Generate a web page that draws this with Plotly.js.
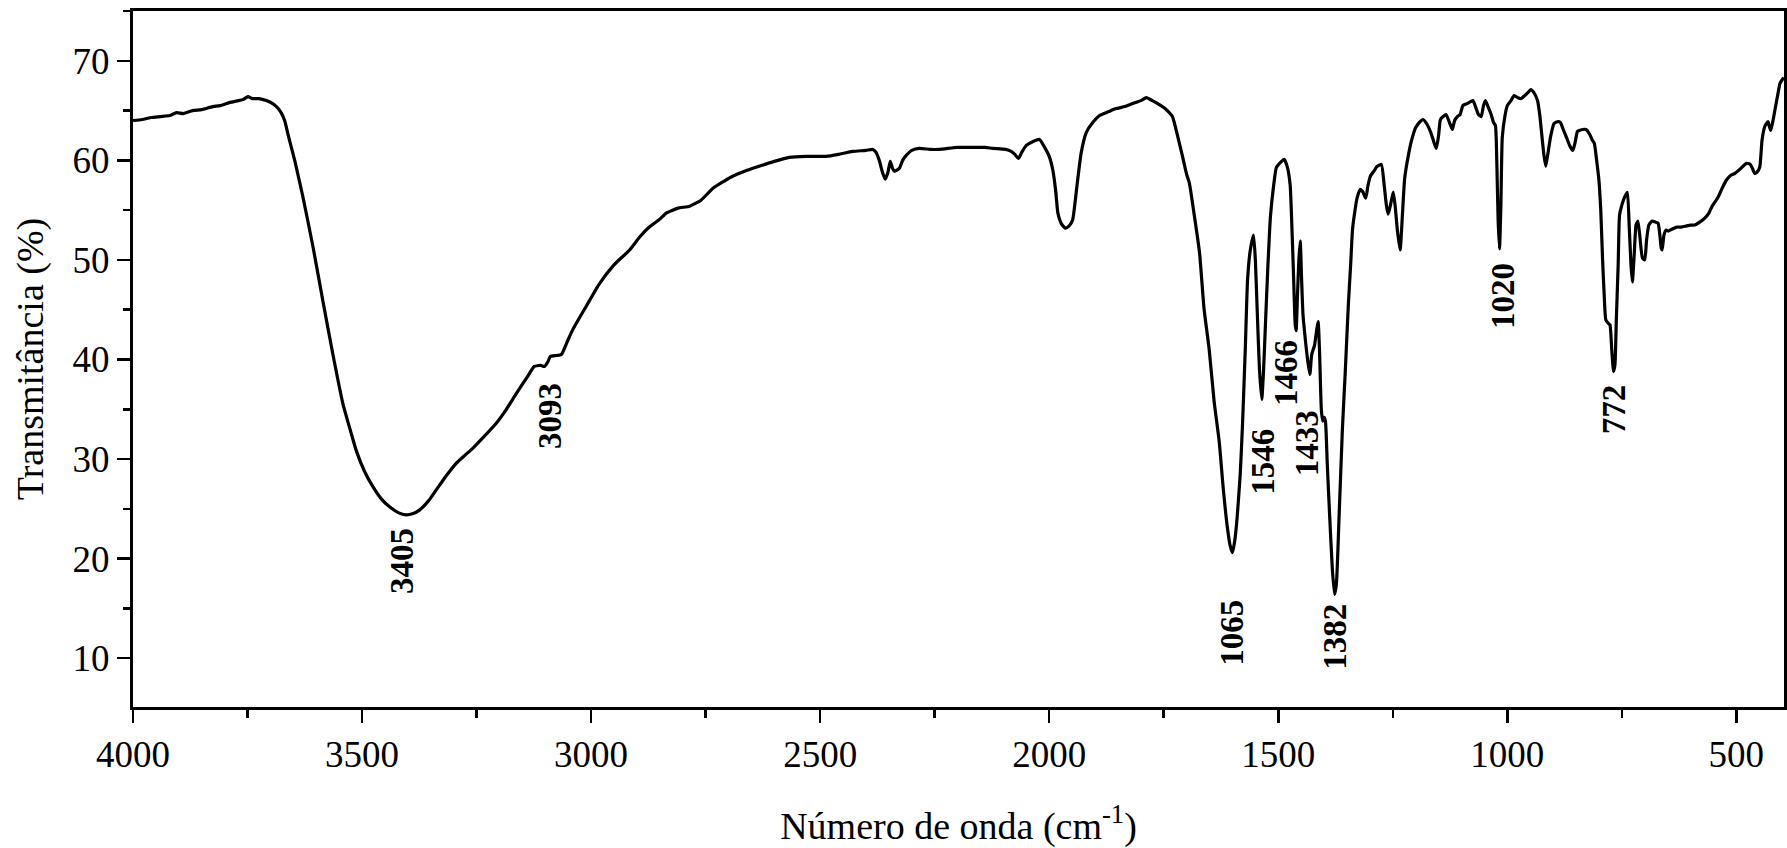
<!DOCTYPE html>
<html>
<head>
<meta charset="utf-8">
<script src="https://cdn.plot.ly/plotly-3.0.1.min.js"></script>
<style>
  html, body { margin: 0; padding: 0; background: #fff; }
  #chart { width: 1787px; height: 848px; }
</style>
</head>
<body>
<div id="chart"></div>
<script>
// Wavenumber (cm-1)
const wavenumber = [
  4000,3980,3960,3940,3920,3905,3890,3870,3850,3826,3810,3790,3770,3760,3749,3740,3725,3709,3695,3687,
  3678,3669,3660,3647,3629,3607,3586,3564,3542,3525,3513,3495,3476,3458,3440,3420,3404,3390,3374,3355,
  3338,3315,3294,3275,3258,3235,3207,3185,3163,3140,3124,3110,3102,3094,3089,3075,3065,3052,3040,3010,
  2982,2950,2916,2894,2873,2850,2836,2810,2785,2760,2734,2710,2691,2665,2640,2600,2567,2530,2487,2460,
  2429,2400,2385,2378,2371,2364,2358,2352,2347,2342,2338,2327,2320,2312,2300,2283,2260,2240,2200,2167,
  2140,2123,2095,2083,2075,2067,2060,2050,2035,2021,2010,2000,1992,1986,1981,1973,1965,1957,1949,1943,
  1938,1930,1919,1905,1890,1870,1854,1835,1818,1800,1788,1775,1763,1750,1740,1731,1720,1709,1700,1694,
  1683,1672,1662,1651,1640,1629,1620,1611,1605,1600,1595,1590,1583,1578,1572,1567,1561,1554,1550,1546,
  1541,1536,1532,1528,1523,1517,1510,1504,1495,1487,1480,1474,1470,1467,1463,1461,1458,1455,1452,1449,
  1446,1442,1436,1431,1427,1421,1416,1413,1410,1406,1403,1400,1397,1393,1388,1382,1377,1373,1367,1360,
  1354,1347,1342,1338,1334,1328,1321,1315,1309,1304,1299,1290,1284,1275,1269,1264,1260,1255,1249,1245,
  1240,1234,1229,1224,1216,1209,1200,1190,1184,1175,1167,1160,1155,1150,1146,1140,1134,1127,1120,1115,
  1109,1103,1097,1088,1080,1075,1068,1063,1057,1052,1048,1043,1036,1030,1026,1023,1020,1017,1014,1011,
  1005,1000,992,985,977,971,962,955,949,942,934,929,925,920,916,911,905,898,889,884,
  877,870,864,857,852,847,843,836,828,820,814,810,805,800,796,792,788,785,779,776,
  772,768,765,762,758,755,750,744,738,734,730,727,723,719,715,711,705,700,696,691,
  684,677,671,667,664,662,658,653,649,640,630,620,610,600,591,580,569,560,554,547,
  540,531,522,512,503,490,478,470,465,460,455,449,446,444,438,431,428,425,420,416,
  410,405,400,396
];
// Transmittance (%)
const transmittance = [
  64.0,64.1,64.3,64.4,64.5,64.8,64.7,65.0,65.1,65.4,65.5,65.8,66.0,66.1,66.4,66.2,66.2,66.0,65.7,65.4,
  64.9,64.0,62.3,60.0,56.3,51.3,46.0,40.6,35.6,32.8,30.9,28.8,27.2,26.0,25.2,24.6,24.4,24.5,24.9,25.8,
  26.9,28.4,29.6,30.4,31.1,32.2,33.6,35.0,36.6,38.2,39.3,39.4,39.3,39.8,40.3,40.4,40.5,41.8,43.0,45.4,
  47.6,49.5,51.0,52.3,53.3,54.1,54.7,55.2,55.4,56.0,57.2,57.9,58.4,58.9,59.3,59.9,60.3,60.4,60.4,60.6,
  60.9,61.0,61.1,60.8,60.0,58.8,58.1,58.8,59.9,59.2,58.9,59.2,60.0,60.5,61.0,61.2,61.1,61.1,61.3,61.3,
  61.3,61.2,61.1,60.9,60.6,60.2,60.8,61.5,61.9,62.1,61.3,60.4,59.0,57.0,54.7,53.6,53.2,53.4,54.0,56.0,
  58.0,60.8,62.8,63.8,64.5,64.9,65.2,65.4,65.7,66.0,66.3,66.0,65.7,65.3,64.9,64.4,62.5,60.4,58.6,57.7,
  54.4,50.8,45.1,41.1,35.8,31.8,27.0,23.1,21.3,20.6,21.8,24.0,28.5,33.5,41.0,48.0,51.0,52.5,50.0,45.0,
  39.0,36.0,39.0,43.5,49.0,54.4,57.5,59.3,59.8,60.1,59.3,57.5,53.0,49.0,43.5,42.9,46.5,50.0,51.9,48.0,
  44.5,42.5,40.0,38.5,40.5,41.4,43.0,43.8,41.0,35.0,33.8,34.2,33.8,29.5,24.5,19.0,16.4,17.5,24.5,33.0,
  38.5,45.5,49.5,53.0,54.5,56.2,57.1,56.8,56.2,57.5,58.4,59.0,59.4,59.6,57.6,55.5,54.6,55.5,56.8,55.5,
  53.0,51.0,54.5,58.2,60.5,62.0,63.3,63.9,64.1,63.6,62.8,61.8,61.2,62.5,64.1,64.4,64.6,63.9,63.1,64.0,
  64.4,64.6,65.5,65.7,65.9,66.0,65.2,64.6,64.4,65.5,66.0,65.5,64.7,63.8,63.5,60.0,54.0,51.1,55.5,62.3,
  64.5,65.5,66.0,66.5,66.3,66.2,66.5,66.8,67.1,66.8,66.0,64.5,62.7,60.5,59.4,60.8,62.5,63.7,63.9,63.8,
  63.0,62.2,61.5,61.0,61.8,62.9,63.0,63.1,63.1,62.6,62.0,61.7,60.0,58.0,55.0,50.0,46.0,44.0,43.6,43.5,
  41.0,38.8,39.5,44.0,49.5,54.5,55.5,56.3,56.8,53.5,49.5,47.8,50.5,53.5,53.9,52.5,50.2,50.0,52.0,53.5,
  53.9,53.8,53.7,52.5,51.2,51.0,52.5,53.0,52.9,53.1,53.3,53.3,53.4,53.5,53.5,53.8,54.2,54.7,55.3,55.8,
  56.3,57.2,58.0,58.5,58.7,59.2,59.7,59.6,59.2,58.7,58.8,59.3,60.8,62.0,63.4,63.9,63.4,63.0,64.0,65.0,
  66.5,67.7,68.1,68.3
];

// Peak labels
const peakLabels = ['3405','3093','1065','1546','1466','1433','1382','1020','772'];
const peakLabelX = [3414, 3090, 1600, 1534, 1482, 1437, 1375, 1009, 767];
const peakLabelY = [19.8, 34.3, 12.6, 29.7, 38.6, 31.6, 12.1, 46.4, 35.0];

const FONT = "'Liberation Serif', 'Times New Roman', serif";

const trace = {
  x: wavenumber,
  y: transmittance,
  type: 'scatter',
  mode: 'lines',
  line: { color: '#000', width: 3.2, shape: 'spline', smoothing: 0.5 },
  hoverinfo: 'x+y'
};

const annotations = peakLabels.map((t, i) => ({
  x: peakLabelX[i], y: peakLabelY[i], xref: 'x', yref: 'y',
  text: '<b>' + t + '</b>', showarrow: false, textangle: -90,
  font: { family: FONT, size: 33, color: '#000' },
  xanchor: 'center', yanchor: 'middle'
}));

const axisCommon = {
  showline: true, linecolor: '#000', linewidth: 3, mirror: true,
  ticks: 'outside', tickcolor: '#000', tickwidth: 2.5, ticklen: 13,
  showgrid: false, zeroline: false,
  tickfont: { family: FONT, size: 37, color: '#000' }
};

const layout = {
  width: 1787, height: 848,
  margin: { l: 133, r: 3, t: 11, b: 141 },
  paper_bgcolor: '#fff', plot_bgcolor: '#fff',
  showlegend: false,
  font: { family: FONT, color: '#000' },
  xaxis: Object.assign({}, axisCommon, {
    range: [4000, 396], dtick: 500, tick0: 0,
    minor: { dtick: 250, tick0: 0, ticks: 'outside', ticklen: 8, tickwidth: 2.5, tickcolor: '#000', showgrid: false },
    title: { text: 'Número de onda (cm<sup>-1</sup>)', font: { family: FONT, size: 38, color: '#000' }, standoff: 40 }
  }),
  yaxis: Object.assign({}, axisCommon, {
    range: [5.1, 75], dtick: 10, tick0: 0,
    minor: { dtick: 5, tick0: 0, ticks: 'outside', ticklen: 7, tickwidth: 2.5, tickcolor: '#000', showgrid: false },
    title: { text: 'Transmitância (%)', font: { family: FONT, size: 38, color: '#000' }, standoff: 18 }
  }),
  annotations: annotations
};

Plotly.newPlot('chart', [trace], layout, { displayModeBar: false, staticPlot: true });
</script>
</body>
</html>
